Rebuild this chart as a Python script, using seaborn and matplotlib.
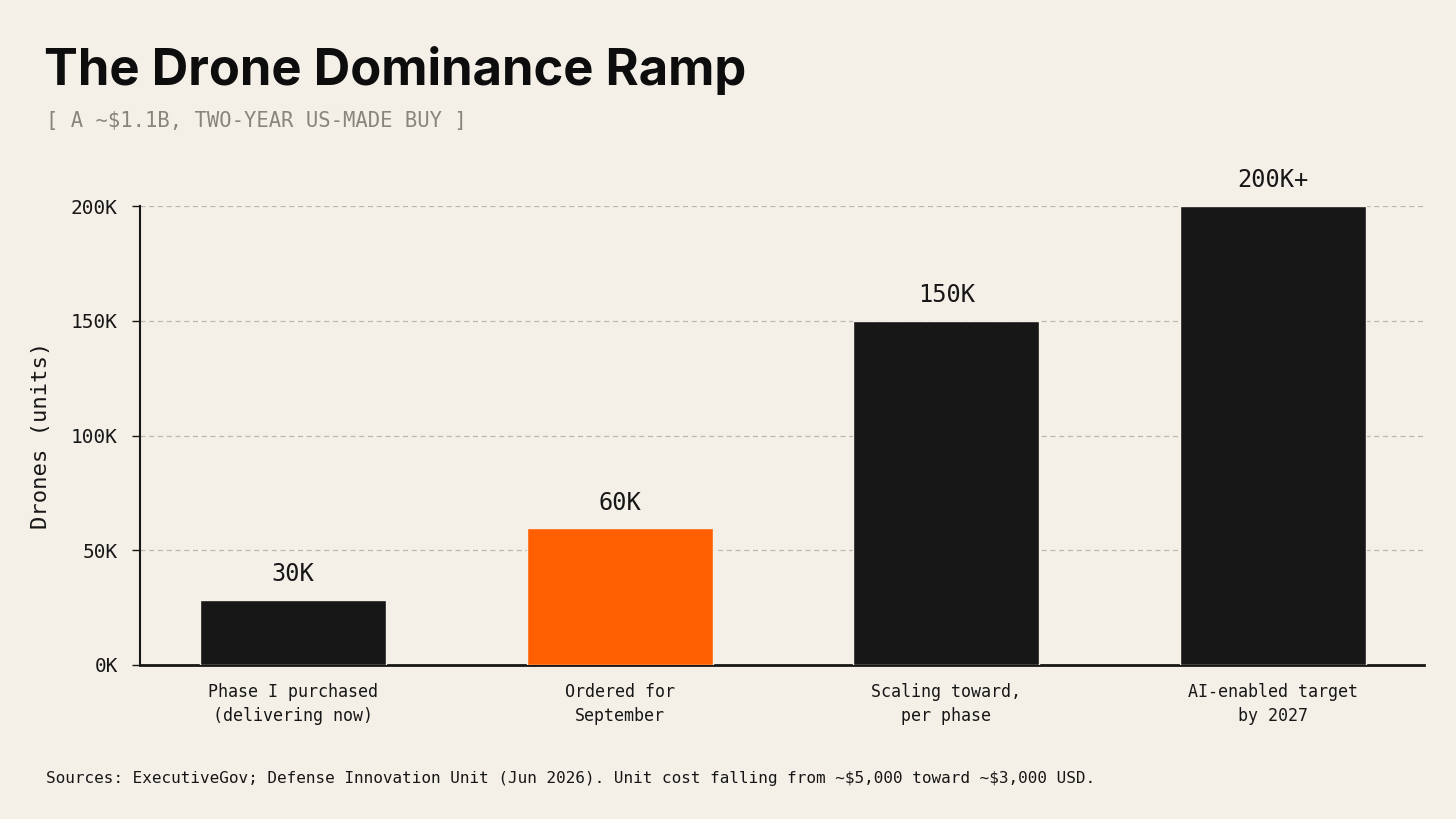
import pandas as pd
import seaborn as sns
import matplotlib.pyplot as plt

# data
categories = ["Phase I purchased\n(delivering now)", "Ordered for\nSeptember",
              "Scaling toward,\nper phase", "AI-enabled target\nby 2027"]
drones = [28500, 59500, 150000, 200000]
bar_labels = ["30K", "60K", "150K", "200K+"]
highlight = [False, True, False, False]
yticks = [0, 50000, 100000, 150000, 200000]

bg = "#F4F0E8"
ink = "#171717"
orange = "#FF5F00"
mono = ["DejaVu Sans Mono"]

df = pd.DataFrame({"cat": categories, "val": drones, "hl": highlight})

sns.set_theme(style="white")
plt.rcParams["font.family"] = mono
plt.rcParams["text.parse_math"] = False

fig = plt.figure(figsize=(14.56, 8.19), dpi=100, facecolor=bg)
ax = fig.add_axes([140 / 1456, 1 - 665 / 819, (1424 - 140) / 1456, (665 - 206) / 819])
ax.set_facecolor(bg)

sns.barplot(data=df, x="cat", y="val", hue="hl", palette={False: ink, True: orange},
            saturation=1, width=0.57, legend=False, edgecolor=bg, linewidth=1, ax=ax, zorder=3)

for i, (v, lab) in enumerate(zip(drones, bar_labels)):
    ax.annotate(lab, (i, v), xytext=(0, 10), textcoords="offset points",
                ha="center", va="bottom", fontsize=17, color=ink, clip_on=False)

ax.set_xlim(-0.468, 3.462)
ax.set_ylim(0, 200000)
ax.set_yticks(yticks)
ax.set_yticklabels([f"{int(t / 1000)}K" for t in yticks], fontsize=14, color=ink)
ax.tick_params(axis="y", left=True, length=6, width=1, color=ink, pad=10)
ax.tick_params(axis="x", bottom=False, labelsize=12, labelcolor=ink, pad=7)
for t in ax.get_xticklabels():
    t.set_linespacing(1.45)
ax.set_xlabel("")
ax.set_ylabel("Drones (units)", fontsize=16, color=ink, labelpad=14)

ax.yaxis.grid(True, linestyle=(0, (4, 3)), color="#BDB8AE", linewidth=0.9, zorder=0)
ax.set_axisbelow(True)
for s in ["top", "right"]:
    ax.spines[s].set_visible(False)
ax.spines["left"].set_color(ink)
ax.spines["left"].set_linewidth(1.5)
ax.spines["bottom"].set_color(ink)
ax.spines["bottom"].set_linewidth(2)

fig.text(44 / 1456, 1 - 85 / 819, "The Drone Dominance Ramp", family=["Inter", "DejaVu Sans"],
         fontweight="bold", fontsize=36.5, color="#0D0D0D", ha="left", va="baseline")
fig.text(46 / 1456, 1 - 121 / 819, "[ A ~$1.1B, TWO-YEAR US-MADE BUY ]", fontsize=14.8,
         color="#8A857C", ha="left", va="center")
fig.text(46 / 1456, 1 - 779 / 819,
         "Sources: ExecutiveGov; Defense Innovation Unit (Jun 2026). Unit cost falling from ~$5,000 toward ~$3,000 USD.",
         fontsize=11.5, color=ink, ha="left", va="center")

fig.savefig("out.png", dpi=100, facecolor=bg)
